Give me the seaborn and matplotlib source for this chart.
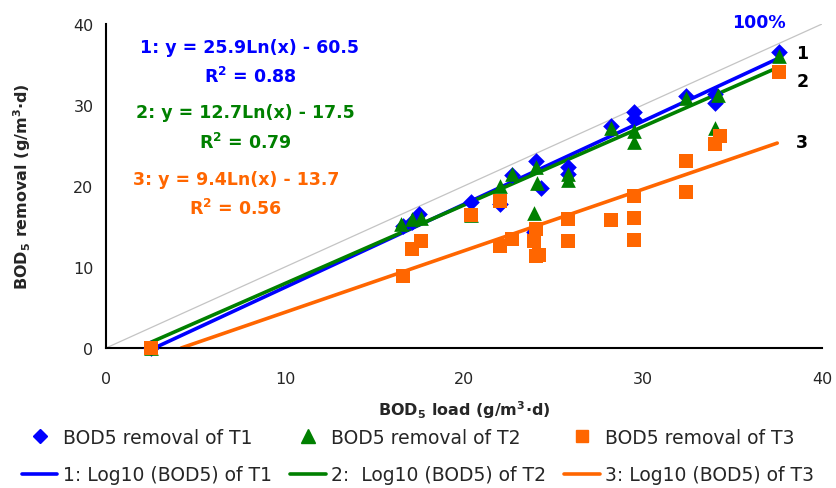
import matplotlib
matplotlib.use("Agg")
import matplotlib.pyplot as plt
import seaborn as sns
import pandas as pd
from matplotlib.lines import Line2D

# ---------------- data ----------------
t1_load = [2.5, 16.6, 17.1, 17.5, 20.4, 22.0, 22.7, 24.0, 24.3, 23.9, 25.8, 25.8, 28.2, 29.5, 29.5, 32.4, 34.0, 34.0, 37.6]
t1_rem = [0.0, 15.1, 15.6, 16.5, 18.0, 17.8, 21.3, 23.1, 19.8, 14.3, 22.3, 21.5, 27.4, 29.1, 28.3, 31.1, 31.3, 30.3, 36.5]

t2_load = [2.5, 16.5, 17.1, 17.6, 20.4, 22.0, 22.7, 24.0, 24.1, 23.9, 25.8, 25.8, 28.2, 29.5, 29.5, 32.4, 34.2, 34.0, 37.6]
t2_rem = [0.0, 15.3, 15.9, 16.1, 16.4, 20.0, 21.5, 22.3, 20.4, 16.7, 21.5, 20.8, 27.2, 26.8, 25.4, 30.9, 31.2, 27.2, 36.1]

t3_load = [2.5, 16.6, 17.1, 17.6, 20.4, 22.0, 22.0, 22.7, 24.0, 23.9, 24.0, 24.2, 25.8, 25.8, 28.2, 29.5, 29.5, 29.5, 32.4, 32.4, 34.3, 34.0, 37.6]
t3_rem = [0.0, 8.9, 12.2, 13.2, 16.4, 18.1, 12.6, 13.5, 14.7, 13.2, 11.4, 11.5, 15.9, 13.2, 15.8, 18.8, 16.0, 13.3, 23.1, 19.3, 26.2, 25.2, 34.1]

# trend lines (as drawn)
fit1_x = [2.7, 37.5]
fit1_y = [0.0, 35.7]
fit2_x = [2.5, 37.5]
fit2_y = [0.7, 34.6]
fit3_x = [4.2, 37.5]
fit3_y = [0.0, 25.3]

# 100 % line
ref_x = [0, 40]
ref_y = [0, 40]

eq_labels = ["1: y = 25.9Ln(x) - 60.5", "R$^\\mathbf{2}$ = 0.88",
             "2: y = 12.7Ln(x) - 17.5", "R$^\\mathbf{2}$ = 0.79",
             "3: y = 9.4Ln(x) - 13.7", "R$^\\mathbf{2}$ = 0.56"]
x_ticks = [0, 10, 20, 30, 40]
y_ticks = [0, 10, 20, 30, 40]

legend_labels = ["BOD5 removal of T1", "1: Log10 (BOD5) of T1",
                 "BOD5 removal of T2", "2:  Log10 (BOD5) of T2",
                 "BOD5 removal of T3", "3: Log10 (BOD5) of T3"]

BLUE = "#0000FF"
GREEN = "#008000"
ORANGE = "#FF6600"

# ---------------- figure ----------------
sns.set_style("white")
plt.rcParams["font.family"] = ["DejaVu Sans"]

fig = plt.figure(figsize=(8.36, 4.89), dpi=100)
ax = fig.add_axes([106 / 836, 1 - 349 / 489, (822 - 106) / 836, (349 - 25) / 489])

sns.lineplot(x=ref_x, y=ref_y, ax=ax, color="#c4c4c4", linewidth=0.9, zorder=1)
sns.lineplot(x=fit1_x, y=fit1_y, ax=ax, color=BLUE, linewidth=2.6, zorder=2)
sns.lineplot(x=fit2_x, y=fit2_y, ax=ax, color=GREEN, linewidth=2.6, zorder=2)
sns.lineplot(x=fit3_x, y=fit3_y, ax=ax, color=ORANGE, linewidth=2.6, zorder=2)

sns.scatterplot(x=t1_load, y=t1_rem, ax=ax, marker="D", s=72, color=BLUE, linewidth=0, zorder=3, clip_on=False)
sns.scatterplot(x=t2_load, y=t2_rem, ax=ax, marker="^", s=112, color=GREEN, linewidth=0, zorder=4, clip_on=False)
sns.scatterplot(x=t3_load, y=t3_rem, ax=ax, marker="s", s=88, color=ORANGE, linewidth=0, zorder=5, clip_on=False)

ax.set_xlim(0, 40)
ax.set_ylim(0, 40)
ax.set_xticks(x_ticks)
ax.set_yticks(y_ticks)
ax.tick_params(axis="both", direction="out", length=4, width=1.5, color="black", labelsize=11.5)
ax.tick_params(axis="x", pad=12.5)
ax.tick_params(axis="y", pad=5)
for side in ["top", "right"]:
    ax.spines[side].set_visible(False)
for side in ["left", "bottom"]:
    ax.spines[side].set_color("black")
    ax.spines[side].set_linewidth(1.5)

ax.set_xlabel("BOD$_\\mathbf{5}$ load (g/m$^\\mathbf{3}$·d)", fontsize=11.5, fontweight="bold", labelpad=9)
ax.set_ylabel("BOD$_\\mathbf{5}$ removal (g/m$^\\mathbf{3}$·d)", fontsize=11.5, fontweight="bold", labelpad=29)

# equation annotations
eq_colors = [BLUE, BLUE, GREEN, GREEN, ORANGE, ORANGE]
eq_x = [8.04, 8.04, 7.77, 7.77, 7.26, 7.26]
eq_y = [37.2, 33.6, 29.1, 25.4, 20.9, 17.3]
for lab, col, xx, yy in zip(eq_labels, eq_colors, eq_x, eq_y):
    ax.text(xx, yy, lab, color=col, fontsize=12.5, fontweight="bold", ha="center", va="center")

ax.text(36.5, 40.3, "100%", color=BLUE, fontsize=12.5, fontweight="bold", ha="center", va="center", clip_on=False)
for lab, yy in zip(["1", "2", "3"], [36.4, 33.0, 25.4]):
    ax.text(38.9, yy, lab, color="black", fontsize=12.5, fontweight="bold", ha="center", va="center", clip_on=False)

# legend
handles = [
    Line2D([], [], linestyle="none", marker="D", markersize=7.5, color=BLUE),
    Line2D([], [], color=BLUE, linewidth=2.6),
    Line2D([], [], linestyle="none", marker="^", markersize=10, color=GREEN),
    Line2D([], [], color=GREEN, linewidth=2.6),
    Line2D([], [], linestyle="none", marker="s", markersize=8.5, color=ORANGE),
    Line2D([], [], color=ORANGE, linewidth=2.6),
]
fig.legend(handles, legend_labels, ncol=3, loc="center", bbox_to_anchor=(0.5, 1 - 457 / 489),
           frameon=False, fontsize=13.5, handlelength=1.9, handletextpad=0.3,
           columnspacing=0.95, labelspacing=1.0, borderaxespad=0)

fig.savefig("out.png", dpi=100)
